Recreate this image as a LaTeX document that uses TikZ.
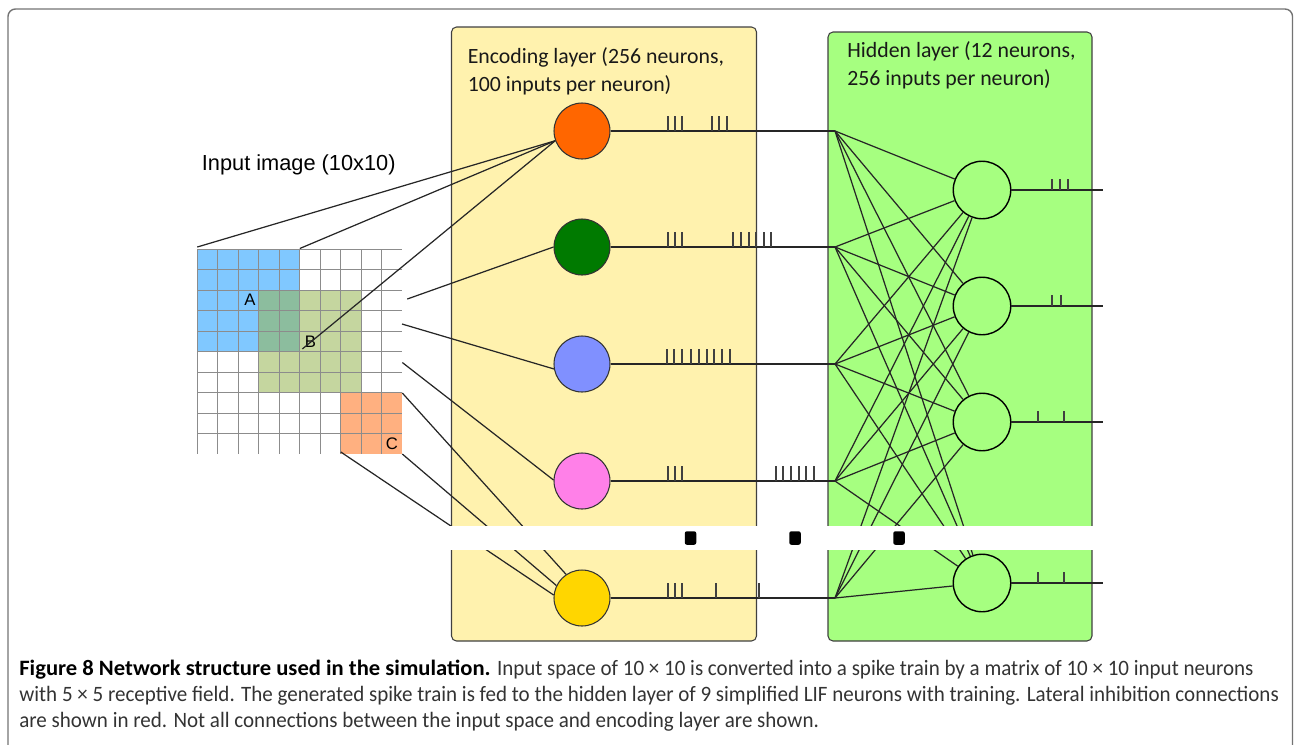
\documentclass[tikz,border=0pt]{standalone}
\usepackage{fontspec}
\setmainfont{Carlito}
\newfontfamily\arialfont{Liberation Sans}
\newfontfamily\capfont[FakeStretch=0.957]{Carlito}
\newfontfamily\capbfont[FakeStretch=1.03]{Carlito}
\usepackage{tikz}
\usetikzlibrary{positioning}

\definecolor{encyellow}{RGB}{255,242,174}
\definecolor{hidgreen}{RGB}{166,255,128}
\definecolor{nOrange}{RGB}{255,102,0}
\definecolor{nGreen}{RGB}{0,122,0}
\definecolor{nBlue}{RGB}{128,144,255}
\definecolor{nPink}{RGB}{255,128,232}
\definecolor{nYellow}{RGB}{255,214,0}
\definecolor{cellA}{RGB}{128,200,255}
\definecolor{cellB}{RGB}{150,180,80}
\definecolor{cellC}{RGB}{255,176,128}

\begin{document}
\begin{tikzpicture}[
    x=0.02cm, y=-0.02cm,
    frame/.style={draw=black!55, line width=0.8pt, rounded corners=1.5mm},
    panel/.style={draw=black!75, line width=0.6pt, rounded corners=1mm},
    encn/.style={circle, draw=black!80, line width=0.6pt, minimum size=1.12cm, inner sep=0pt},
    hidn/.style={circle, draw=black, line width=0.8pt, fill=hidgreen, minimum size=1.15cm, inner sep=0pt},
    conn/.style={line width=0.7pt, black!85},
    spike/.style={line width=0.9pt, black!75},
    gridline/.style={line width=0.5pt, black!45},
    gapdot/.style={fill=black, rounded corners=1.2pt, minimum width=0.23cm, minimum height=0.27cm, inner sep=0pt},
    lbl/.style={font=\fontsize{12.4}{15}\selectfont, anchor=base west, inner sep=0pt, black!90},
    letter/.style={font=\arialfont\fontsize{9.5}{11}\selectfont, inner sep=0pt},
    caplbl/.style={font=\capfont\fontsize{12.5}{15}\selectfont, anchor=base west, inner sep=0pt, black!80}
]
\useasboundingbox (0,0) rectangle (1294,744);

% outer frame and the two layers
\draw[frame] (8,746) -- (8,9) -- (1292.5,9) -- (1292.5,746);
\draw[panel, fill=encyellow] (451.5,27) rectangle (756.5,641);
\draw[panel, fill=hidgreen] (828,32) rectangle (1092,641);

% input image
\fill[cellA] (197.3,249.3) rectangle (299.8,351.8);
\fill[cellB, fill opacity=0.55] (258.8,290.3) rectangle (361.3,392.8);
\fill[cellC] (340.8,392.8) rectangle (402.3,454);
\foreach \i in {0,...,9} {
    \draw[gridline] (197.3,{249.3+20.47*\i}) -- (402.3,{249.3+20.47*\i});
    \draw[gridline] ({197.3+20.5*\i},249.3) -- ({197.3+20.5*\i},454);
}
\node[letter] (labA) at (250,300) {A};
\node[letter] (labB) at (310.5,341.5) {B};
\node[letter] (labC) at (392,444) {C};
\node[font=\arialfont\fontsize{12.4}{14}\selectfont, anchor=base west, inner sep=0pt] (intitle) at (201.5,170) {Input image (10x10)};

% encoding neurons
\node[encn, fill=nOrange] (e1) at (582,131) {};
\node[encn, fill=nGreen] (e2) at (582,247) {};
\node[encn, fill=nBlue] (e3) at (582,364) {};
\node[encn, fill=nPink] (e4) at (582,481) {};
\node[encn, fill=nYellow] (e5) at (582,598) {};

\coordinate (aTL) at (197.3,247);
\coordinate (aTR) at (299.8,248.5);
\coordinate (bMid) at (302.3,349);
\coordinate (r1) at (407.3,299);
\coordinate (r2) at (402,324);
\coordinate (r3) at (402.3,362.5);
\coordinate (cTR) at (402.3,393);
\coordinate (cBR) at (402.3,454);
\coordinate (cBL) at (340.8,452);

\draw[conn] (aTL) -- (e1.200);
\draw[conn] (aTR) -- (e1.200);
\draw[conn] (bMid) -- (e1.200);
\draw[conn] (r1) -- (e2.west);
\draw[conn] (r2) -- (e3.190);
\draw[conn] (r3) -- (e4.178);
\draw[conn] (cBL) -- (e5.174);
\draw[conn] (cBR) -- (e5.154);
\draw[conn] (cTR) -- (e5.124);

% hidden neurons
\foreach \i/\y in {1/131,2/247,3/364,4/481,5/598} {
    \coordinate (f\i) at (835,\y);
    \draw[conn] (e\i) -- (f\i);
}
\foreach \j/\y in {1/190,2/306,3/422,4/583} {
    \node[hidn] (h\j) at (982,\y) {};
    \coordinate (o\j) at (1103,\y);
    \draw[conn] (h\j) -- (o\j);
}
\foreach \i in {1,...,5}
    \foreach \j in {1,...,4}
        \draw[conn] (f\i) -- (h\j);

% spike trains
\foreach \x in {668,675,682,712,719,727} \draw[spike] (\x,131) -- ++(0,-15);
\foreach \x in {668,675,682,733,741,749,756,764,771} \draw[spike] (\x,247) -- ++(0,-15);
\foreach \x in {667,674,682,691,699,707,714,722,730} \draw[spike] (\x,364) -- ++(0,-15);
\foreach \x in {668,675,682,776,783,791,799,806,814} \draw[spike] (\x,481) -- ++(0,-15);
\foreach \x in {668,675,682,716,759} \draw[spike] (\x,598) -- ++(0,-15);
\foreach \x in {1052,1060,1068} \draw[spike] (\x,190) -- ++(0,-11);
\foreach \x in {1052,1061} \draw[spike] (\x,306) -- ++(0,-11);
\foreach \x in {1038,1064} \draw[spike] (\x,422) -- ++(0,-11);
\foreach \x in {1038,1064} \draw[spike] (\x,583) -- ++(0,-11);

% gap
\fill[white] (440,526) rectangle (1096,550);
\node[gapdot] (g1) at (690.5,538) {};
\node[gapdot] (g2) at (795,538) {};
\node[gapdot] (g3) at (899,538) {};

\node[lbl] (enctext1) at (467.5,63) {Encoding layer (256 neurons,};
\node[lbl] (enctext2) at (467.5,91) {100 inputs per neuron)};
\node[lbl] (hidtext1) at (847,57.7) {Hidden layer (12 neurons,};
\node[lbl] (hidtext2) at (847,85) {256 inputs per neuron)};

% caption
\node[caplbl] (cap1) at (19,675) {{\capbfont\bfseries\color{black}Figure 8 Network structure used in the simulation.} Input space of 10 × 10 is converted into a spike train by a matrix of 10 × 10 input neurons};
\node[caplbl] (cap2) at (19,701) {with 5 × 5 receptive field. The generated spike train is fed to the hidden layer of 9 simplified LIF neurons with training. Lateral inhibition connections};
\node[caplbl] (cap3) at (19,727) {are shown in red. Not all connections between the input space and encoding layer are shown.};
\end{tikzpicture}
\end{document}
